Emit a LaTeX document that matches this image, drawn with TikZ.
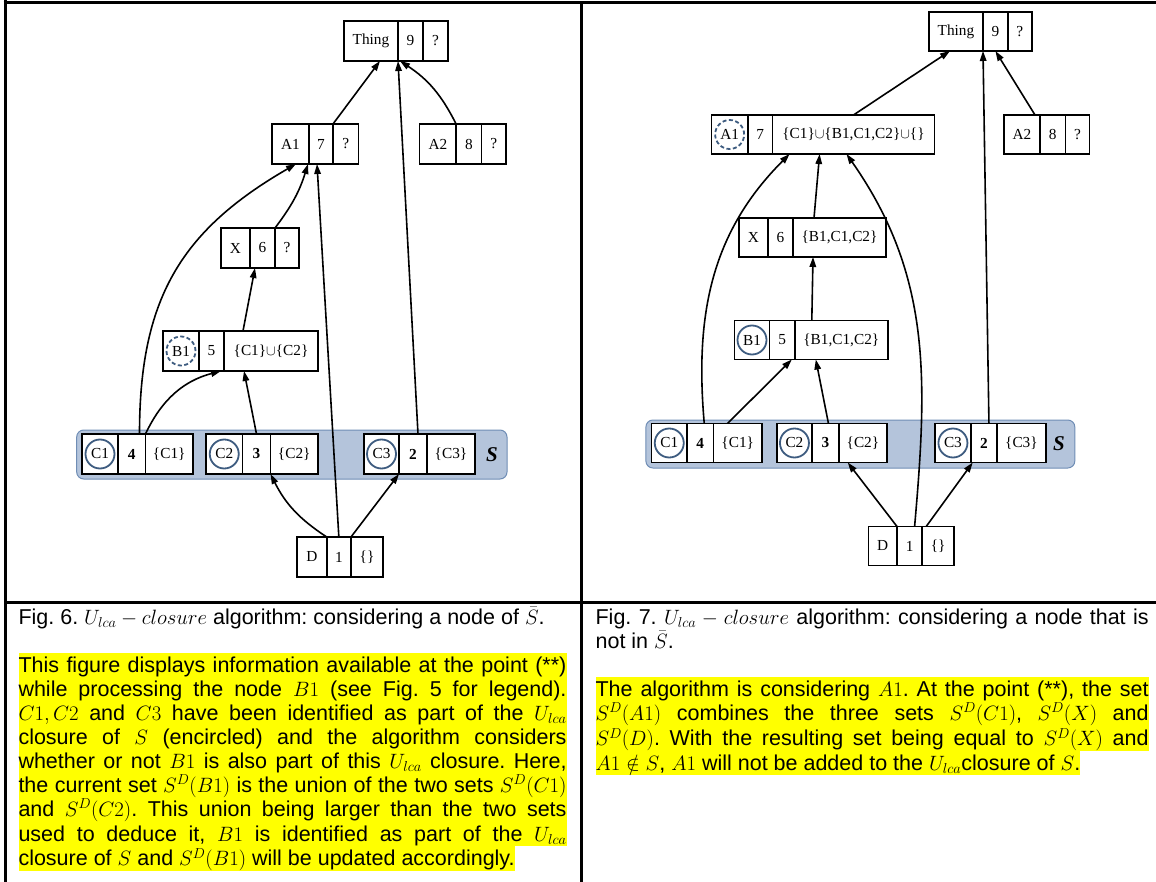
\documentclass[tikz,border=0pt]{standalone}
\usepackage{fontspec}
\setmainfont{Liberation Serif}
\setsansfont{Liberation Sans}
\usetikzlibrary{positioning,arrows.meta}
\definecolor{bandfill}{HTML}{B4C4DB}
\definecolor{banddraw}{HTML}{6F8DB5}
\definecolor{ringblue}{HTML}{3E5C80}
\definecolor{hlyellow}{HTML}{FFFF00}
\newcommand{\hlstrut}{\rule[-4.6pt]{0pt}{24pt}}
\tolerance=10000
\hbadness=10000
\lineskiplimit=-100pt
\frenchspacing
\begin{document}
\begin{tikzpicture}[x=1pt, y=1pt,
cell/.style={draw, fill=white, line width=1.6pt, inner sep=0pt, outer sep=0pt, minimum height=40pt, font=\fontsize{15.3}{17}\selectfont},
edge/.style={-{Triangle[length=10pt,width=6.5pt]}, line width=1.6pt},
ring/.style={draw=ringblue, line width=1.8pt},
band/.style={fill=bandfill, draw=banddraw, line width=1pt, rounded corners=7pt},
slabel/.style={font=\fontsize{21}{24}\selectfont\bfseries\itshape},
frame/.style={line width=3pt},
caption/.style={inner sep=0pt, outer sep=0pt, font=\sffamily\fontsize{21.5}{24}\selectfont},
hl/.style={caption, fill=hlyellow}]
\useasboundingbox (0,0) rectangle (1156,-882);
%table frame
\draw[frame] (5,0) -- (5,-882);
\draw[frame] (3.5,-2.7) -- (1156,-2.7);
\draw[frame] (581,-2.7) -- (581,-882);
\draw[frame] (5,-602.7) -- (1156,-602.7);

%Fig. 6
\draw[band] (76.7,-430) rectangle (507,-479);
\node[slabel] (lS) at (492,-455) {S};
\begin{scope}[every node/.append style={cell}]
\node[anchor=west, minimum width=54pt] (lTa) at (344,-41) {Thing};
\node[right=0pt of lTa, minimum width=25pt] (lTb) {9};
\node[right=0pt of lTb, minimum width=25pt] (lTc) {?};
\node[anchor=west, minimum width=37pt] (lA1a) at (272,-144) {A1};
\node[right=0pt of lA1a, minimum width=24pt] (lA1b) {7};
\node[right=0pt of lA1b, minimum width=25.5pt] (lA1c) {?};
\node[anchor=west, minimum width=36.5pt] (lA2a) at (419.6,-144) {A2};
\node[right=0pt of lA2a, minimum width=25.5pt] (lA2b) {8};
\node[right=0pt of lA2b, minimum width=24.5pt] (lA2c) {?};
\node[anchor=west, minimum width=29pt] (lXa) at (221,-248) {X};
\node[right=0pt of lXa, minimum width=25pt] (lXb) {6};
\node[right=0pt of lXb, minimum width=24pt] (lXc) {?};
\node[anchor=west, minimum width=36pt] (lB1a) at (163,-351) {B1};
\node[right=0pt of lB1a, minimum width=25pt] (lB1b) {5};
\node[right=0pt of lB1b, minimum width=94pt] (lB1c) {\{C1\}$\cup$\{C2\}};
\node[anchor=west, minimum width=36pt] (lC1a) at (82,-454) {C1};
\node[right=0pt of lC1a, minimum width=27.5pt] (lC1b) {\textbf{4}};
\node[right=0pt of lC1b, minimum width=47.5pt] (lC1c) {\{C1\}};
\node[anchor=west, minimum width=36.5pt] (lC2a) at (206,-454) {C2};
\node[right=0pt of lC2a, minimum width=28pt] (lC2b) {\textbf{3}};
\node[right=0pt of lC2b, minimum width=47.5pt] (lC2c) {\{C2\}};
\node[anchor=west, minimum width=35pt] (lC3a) at (364,-454) {C3};
\node[right=0pt of lC3a, minimum width=28pt] (lC3b) {\textbf{2}};
\node[right=0pt of lC3b, minimum width=48pt] (lC3c) {\{C3\}};
\node[anchor=west, minimum width=29.7pt] (lDa) at (297,-557) {D};
\node[right=0pt of lDa, minimum width=24.3pt] (lDb) {1};
\node[right=0pt of lDb, minimum width=32pt] (lDc) {\{\}};
\end{scope}
\draw[ring] (lC1a.center) circle[radius=14.5pt];
\draw[ring] (lC2a.center) circle[radius=14.5pt];
\draw[ring] (lC3a.center) circle[radius=14.5pt];
\draw[ring, dash pattern=on 4pt off 2.5pt] (lB1a.center) circle[radius=14.5pt];
\begin{scope}[every path/.append style={edge}]
\draw (lA1c.north west) -- ([xshift=9pt]lTa.south);
\draw (lA2b.north west) to[bend right=15] ([xshift=2pt]lTb.south west);
\draw ([xshift=5pt]lC3b.north) -- (lTb.south west);
\draw (lDb.north) -- ([xshift=-4pt]lA1b.south);
\draw (lXc.north west) to[bend right=10] ([xshift=-1pt]lA1b.south west);
\draw ([xshift=-6pt]lC1b.north east) to[out=90, in=-150, looseness=1.1] ([xshift=-13pt]lA1a.south east);
\draw ([xshift=19pt]lB1c.north west) -- ([xshift=5pt]lXb.south west);
\draw (lC1b.north east) to[bend left=25] ([xshift=-3pt]lB1b.south east);
\draw (lC2b.north) -- ([xshift=20pt]lB1c.south west);
\draw (lDb.north west) to[bend left=15] (lC2b.south east);
\draw (lDc.north west) -- (lC3b.south west);
\end{scope}

%Fig. 7
\draw[band] (645.9,-420) rectangle (1074.8,-468);
\node[slabel] (rS) at (1059,-444) {S};
\begin{scope}[every node/.append style={cell, minimum height=39pt}]
\node[anchor=west, minimum width=54pt] (rTa) at (929,-31.5) {Thing};
\node[right=0pt of rTa, minimum width=24.8pt] (rTb) {9};
\node[right=0pt of rTb, minimum width=24.1pt] (rTc) {?};
\node[anchor=west, minimum width=36.3pt] (rA1a) at (711.5,-134.5) {A1};
\node[right=0pt of rA1a, minimum width=24.8pt] (rA1b) {7};
\node[right=0pt of rA1b, minimum width=161.8pt] (rA1c) {\{C1\}$\cup$\{B1,C1,C2\}$\cup$\{\}};
\node[anchor=west, minimum width=36pt] (rA2a) at (1004,-134.5) {A2};
\node[right=0pt of rA2a, minimum width=25.6pt] (rA2b) {8};
\node[right=0pt of rA2b, minimum width=24pt] (rA2c) {?};
\node[anchor=west, minimum width=28.9pt] (rXa) at (738.9,-237.5) {X};
\node[right=0pt of rXa, minimum width=25.2pt] (rXb) {6};
\node[right=0pt of rXb, minimum width=93pt] (rXc) {\{B1,C1,C2\}};
\node[anchor=west, minimum width=35.2pt] (rB1a) at (734.4,-340) {B1};
\node[right=0pt of rB1a, minimum width=25.2pt] (rB1b) {5};
\node[right=0pt of rB1b, minimum width=93pt] (rB1c) {\{B1,C1,C2\}};
\node[anchor=west, minimum width=35.5pt] (rC1a) at (651.5,-443) {C1};
\node[right=0pt of rC1a, minimum width=26.5pt] (rC1b) {\textbf{4}};
\node[right=0pt of rC1b, minimum width=48.5pt] (rC1c) {\{C1\}};
\node[anchor=west, minimum width=35.5pt] (rC2a) at (776.7,-443) {C2};
\node[right=0pt of rC2a, minimum width=26.5pt] (rC2b) {\textbf{3}};
\node[right=0pt of rC2b, minimum width=48.5pt] (rC2c) {\{C2\}};
\node[anchor=west, minimum width=35.5pt] (rC3a) at (935.2,-443) {C3};
\node[right=0pt of rC3a, minimum width=26.5pt] (rC3b) {\textbf{2}};
\node[right=0pt of rC3b, minimum width=48.5pt] (rC3c) {\{C3\}};
\node[anchor=west, minimum width=28.5pt] (rDa) at (868.5,-546) {D};
\node[right=0pt of rDa, minimum width=25.2pt] (rDb) {1};
\node[right=0pt of rDb, minimum width=31.8pt] (rDc) {\{\}};
\end{scope}
\draw[ring] (rC1a.center) circle[radius=14.5pt];
\draw[ring] (rC2a.center) circle[radius=14.5pt];
\draw[ring] (rC3a.center) circle[radius=14.5pt];
\draw[ring] (rB1a.center) circle[radius=14.5pt];
\draw[ring, dash pattern=on 4pt off 2.5pt] (rA1a.center) circle[radius=14.5pt];
\begin{scope}[every path/.append style={edge}]
\draw (rA1c.north) -- ([xshift=-6pt]rTa.south);
\draw ([xshift=-5pt]rA2a.north east) -- (rTb.south);
\draw ([xshift=5pt]rC3b.north) -- (rTb.south west);
\draw ([xshift=5pt]rDb.north) to[out=85, in=-55] ([xshift=-7pt]rA1c.south);
\draw ([xshift=4pt]rC1b.north) to[out=95, in=-135] ([xshift=17pt]rA1c.south west);
\draw ([xshift=21pt]rXc.north west) -- ([xshift=47pt]rA1c.south west);
\draw ([xshift=17pt]rB1c.north west) -- ([xshift=20pt]rXc.south west);
\draw ([xshift=14pt]rC1c.north west) -- ([xshift=-3pt]rB1b.south east);
\draw ([xshift=3pt]rC2b.north) -- ([xshift=21pt]rB1c.south west);
\draw (rDa.north east) -- ([xshift=9pt]rC2c.south west);
\draw ([xshift=4pt]rDc.north west) -- ([xshift=2pt]rC3b.south west);
\end{scope}

%captions
\node[caption, anchor=north west] (cap6) at (18.5,-604.6) {\hlstrut Fig. 6. $U_{lca} - closure$ algorithm: considering a node of $\bar{S}$.};
\node[hl, anchor=north west, text width=548pt, align=justify] (txt6) at ([yshift=-24pt]cap6.south west) {\hlstrut This figure displays information available at the point (**)\linebreak
while processing the node $B1$ (see Fig. 5 for legend).\linebreak
$C1, C2$ and $C3$ have been identified as part of the $U_{lca}$\linebreak
closure of $S$ (encircled) and the algorithm considers\linebreak
whether or not $B1$ is also part of this $U_{lca}$ closure. Here,\linebreak
the current set $S^D(B1)$ is the union of the two sets $S^D(C1)$\linebreak
and $S^D(C2)$. This union being larger than the two sets\linebreak
\hbox to\hsize{used to deduce it, $B1$ is identified as part of the $U_{lca}$\hlstrut}};
\node[hl, anchor=north west] (txt6b) at (txt6.south west) {\hlstrut closure of $S$ and $S^D(B1)$ will be updated accordingly.};

\node[caption, anchor=north west, text width=553pt, align=justify] (cap7) at (595.6,-604.6) {\hlstrut Fig. 7. $U_{lca} - closure$ algorithm: considering a node that is\linebreak
not in $\bar{S}$.\hlstrut};
\node[hl, anchor=north west, text width=553pt, align=justify] (txt7) at ([yshift=-24pt]cap7.south west) {\hlstrut The algorithm is considering $A1$. At the point (**), the set\linebreak
$S^D(A1)$ combines the three sets $S^D(C1)$, $S^D(X)$ and\linebreak
\hbox to\hsize{$S^D(D)$. With the resulting set being equal to $S^D(X)$ and\hlstrut}};
\node[hl, anchor=north west] (txt7b) at (txt7.south west) {\hlstrut $A1 \notin S$, $A1$ will not be added to the $U_{lca}$closure of $S$.};
\end{tikzpicture}
\end{document}
